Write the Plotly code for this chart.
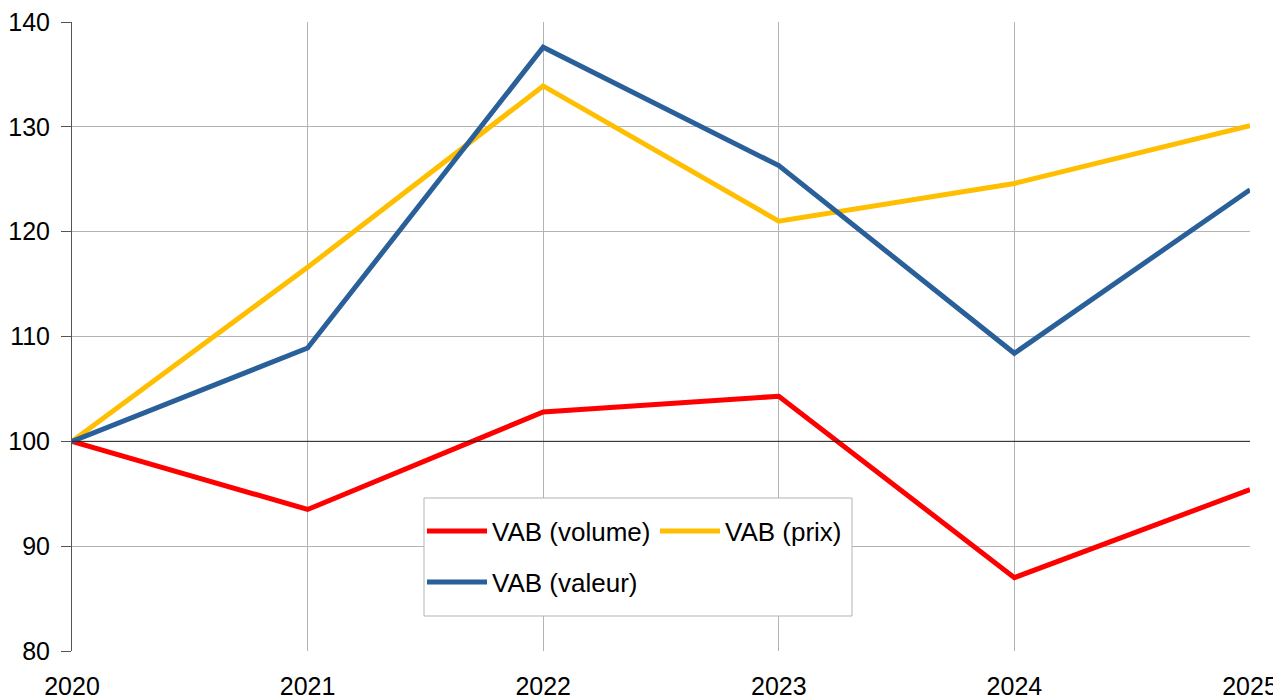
import plotly.graph_objects as go

years = [2020, 2021, 2022, 2023, 2024, 2025]
vab_volume = [100, 93.5, 102.8, 104.3, 87.0, 95.4]
vab_prix = [100, 116.6, 133.9, 121.0, 124.6, 130.1]
vab_valeur = [100, 108.9, 137.6, 126.3, 108.4, 124.0]

FONT = "Liberation Sans, Arial, sans-serif"

fig = go.Figure()
fig.add_trace(go.Scatter(x=years, y=vab_volume, mode="lines", name="VAB (volume)",
                         line=dict(color="#ff0000", width=5), legend="legend"))
fig.add_trace(go.Scatter(x=years, y=vab_prix, mode="lines", name="VAB (prix)",
                         line=dict(color="#ffbf00", width=5), legend="legend"))
fig.add_trace(go.Scatter(x=years, y=vab_valeur, mode="lines", name="VAB (valeur)",
                         line=dict(color="#2a6099", width=5), legend="legend2"))

# reference line at 100
fig.add_hline(y=100, line=dict(color="#222222", width=1), layer="above")

# legend box (plot area spans 1178 x 629 px)
fig.add_shape(type="rect", xref="paper", yref="paper",
              x0=(424 - 72) / 1178, x1=(852 - 72) / 1178,
              y0=(651 - 616) / 629, y1=(651 - 498) / 629,
              line=dict(color="#b3b3b3", width=1), fillcolor="white", layer="above")

leg_common = dict(orientation="h", xanchor="left", yanchor="middle",
                  bgcolor="rgba(0,0,0,0)", borderwidth=0,
                  font=dict(family=FONT, size=26, color="#000000"),
                  itemwidth=60, entrywidthmode="pixels")

# page body adds an 8px offset, margins compensate
fig.update_layout(
    width=1281, height=697,
    margin=dict(l=64, r=39, t=14, b=54),
    paper_bgcolor="white", plot_bgcolor="white",
    font=dict(family=FONT, size=25, color="#000000"),
    showlegend=True,
    legend=dict(x=(422 - 72) / 1178, y=(651 - 531) / 629, entrywidth=158, **leg_common),
    legend2=dict(x=(422 - 72) / 1178, y=(651 - 582) / 629, entrywidth=158, **leg_common),
)

fig.update_xaxes(range=[2020, 2025], dtick=1, tickformat="d", automargin=False,
                 showgrid=True, gridcolor="#b3b3b3", gridwidth=1,
                 showline=False, zeroline=False, ticklabeloverflow="allow",
                 ticks="outside", ticklen=13, tickcolor="rgba(0,0,0,0)")
fig.update_yaxes(range=[80, 140], dtick=10, automargin=False,
                 showgrid=True, gridcolor="#b3b3b3", gridwidth=1,
                 showline=True, linecolor="#555555", linewidth=1,
                 zeroline=False, ticks="outside", ticklen=10, tickcolor="#555555",
                 ticklabelstandoff=6, ticklabeloverflow="allow")

fig.write_html("out.html")
